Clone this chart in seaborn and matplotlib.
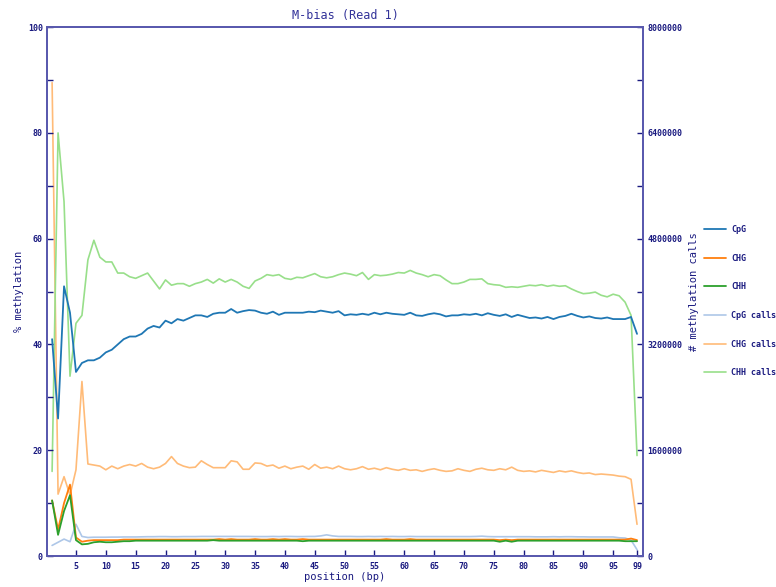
import numpy as np
import pandas as pd
import seaborn as sns
import matplotlib.pyplot as plt

# ---- data ----
position = list(range(1, 100))

# % methylation per position
cpg = [41, 26, 51, 46, 34.8, 36.5, 37, 37, 37.5, 38.5,
       39, 40, 41, 41.5, 41.5, 42, 43, 43.5, 43.2, 44.5,
       44, 44.8, 44.5, 45, 45.5, 45.5, 45.2, 45.8, 46, 46,
       46.7, 46, 46.3, 46.5, 46.4, 46, 45.8, 46.2, 45.6, 46,
       46, 46, 46, 46.2, 46.1, 46.4, 46.2, 46, 46.3, 45.5,
       45.7, 45.6, 45.8, 45.6, 46, 45.7, 46, 45.8, 45.7, 45.6,
       46, 45.5, 45.4, 45.7, 45.9, 45.7, 45.3, 45.5, 45.5, 45.7,
       45.6, 45.8, 45.5, 45.9, 45.6, 45.4, 45.7, 45.2, 45.6, 45.3,
       45, 45.1, 44.9, 45.2, 44.8, 45.2, 45.4, 45.8, 45.4, 45.1,
       45.3, 45, 44.9, 45.1, 44.8, 44.8, 44.8, 45.2, 42]
chg = [10.5, 5, 10, 13.5, 3.5, 2.7, 2.9, 3.0, 3.0, 3.0,
       3.0, 3.0, 3.1, 3.1, 3.1, 3.1, 3.1, 3.1, 3.1, 3.1,
       3.1, 3.1, 3.1, 3.1, 3.1, 3.1, 3.1, 3.1, 3.2, 3.1,
       3.2, 3.1, 3.1, 3.1, 3.2, 3.1, 3.1, 3.2, 3.1, 3.2,
       3.1, 3.1, 3.2, 3.1, 3.1, 3.1, 3.1, 3.1, 3.1, 3.1,
       3.1, 3.1, 3.1, 3.1, 3.1, 3.1, 3.2, 3.1, 3.1, 3.1,
       3.2, 3.1, 3.1, 3.1, 3.1, 3.1, 3.1, 3.1, 3.1, 3.1,
       3.1, 3.1, 3.1, 3.1, 3.1, 3.0, 3.1, 3.0, 3.1, 3.1,
       3.1, 3.1, 3.1, 3.1, 3.1, 3.1, 3.1, 3.1, 3.1, 3.1,
       3.1, 3.1, 3.1, 3.1, 3.1, 3.1, 3.1, 3.3, 3.0]
chh = [10.5, 4, 8.5, 11.5, 3.0, 2.2, 2.3, 2.6, 2.7, 2.6,
       2.6, 2.7, 2.8, 2.8, 2.9, 2.9, 2.9, 2.9, 2.9, 2.9,
       2.9, 2.9, 2.9, 2.9, 2.9, 2.9, 2.9, 3.0, 2.9, 2.9,
       2.9, 2.9, 2.9, 2.9, 2.9, 2.9, 2.9, 2.9, 2.9, 2.9,
       2.9, 2.9, 2.8, 2.9, 2.9, 2.9, 2.9, 2.9, 2.9, 2.9,
       2.9, 2.9, 2.9, 2.9, 2.9, 2.9, 2.9, 2.9, 2.9, 2.9,
       2.9, 2.9, 2.9, 2.9, 2.9, 2.9, 2.9, 2.9, 2.9, 2.9,
       2.9, 2.9, 2.9, 2.9, 2.9, 2.7, 2.9, 2.7, 2.9, 2.9,
       2.9, 2.9, 2.9, 2.9, 2.9, 2.9, 2.9, 2.9, 2.9, 2.9,
       2.9, 2.9, 2.9, 2.9, 2.9, 2.9, 2.8, 2.8, 2.8]

# methylation calls per position, in thousands
cpg_calls_k = [160, 208, 256, 216, 480, 296, 280, 284, 284, 284,
               286, 286, 288, 288, 288, 290, 292, 292, 294, 294,
               292, 292, 294, 294, 294, 296, 296, 296, 296, 296,
               296, 296, 296, 296, 294, 294, 294, 296, 294, 296,
               296, 294, 294, 296, 296, 304, 320, 304, 296, 296,
               296, 294, 294, 296, 294, 296, 294, 296, 294, 294,
               296, 294, 294, 294, 294, 294, 294, 294, 294, 294,
               294, 296, 300, 294, 292, 292, 292, 292, 292, 292,
               292, 290, 290, 290, 292, 290, 292, 292, 290, 290,
               288, 288, 288, 288, 288, 276, 272, 240, 96]
chg_calls_k = [7160, 936, 1200, 920, 1304, 2640, 1392, 1376, 1360, 1304,
               1360, 1320, 1360, 1384, 1360, 1400, 1344, 1320, 1344, 1400,
               1504, 1400, 1360, 1336, 1344, 1440, 1384, 1336, 1336, 1336,
               1440, 1424, 1312, 1312, 1408, 1400, 1360, 1376, 1328, 1360,
               1320, 1344, 1360, 1312, 1384, 1328, 1344, 1320, 1360, 1320,
               1304, 1320, 1352, 1312, 1328, 1304, 1336, 1312, 1296, 1320,
               1296, 1304, 1280, 1304, 1320, 1296, 1280, 1288, 1320, 1296,
               1280, 1312, 1328, 1304, 1296, 1320, 1304, 1344, 1296, 1280,
               1288, 1272, 1296, 1280, 1264, 1288, 1272, 1288, 1264, 1248,
               1256, 1232, 1240, 1232, 1224, 1208, 1200, 1160, 480]
chh_calls_k = [1280, 6400, 5360, 2720, 3520, 3640, 4480, 4776, 4520, 4448,
               4448, 4280, 4280, 4224, 4200, 4240, 4280, 4160, 4040, 4176,
               4096, 4120, 4120, 4080, 4120, 4144, 4184, 4128, 4192, 4144,
               4184, 4144, 4080, 4048, 4160, 4200, 4256, 4240, 4256, 4200,
               4184, 4216, 4208, 4240, 4272, 4224, 4208, 4224, 4256, 4280,
               4264, 4240, 4288, 4184, 4256, 4240, 4248, 4264, 4288, 4280,
               4320, 4280, 4256, 4224, 4256, 4240, 4176, 4120, 4120, 4144,
               4184, 4184, 4192, 4120, 4104, 4096, 4064, 4072, 4064, 4080,
               4096, 4088, 4104, 4080, 4096, 4080, 4088, 4040, 4000, 3968,
               3976, 3992, 3944, 3920, 3960, 3936, 3840, 3640, 1520]

x_ticks = [5, 10, 15, 20, 25, 30, 35, 40, 45, 50, 55, 60, 65, 70, 75, 80, 85, 90, 95, 99]
left_ticks = [0, 10, 20, 30, 40, 50, 60, 70, 80, 90, 100]
left_labels = ["0", "", "20", "", "40", "", "60", "", "80", "", "100"]
right_ticks = [0, 800000, 1600000, 2400000, 3200000, 4000000,
               4800000, 5600000, 6400000, 7200000, 8000000]
right_labels = ["0", "", "1600000", "", "3200000", "", "4800000", "", "6400000", "", "8000000"]

pct = pd.DataFrame({"position": position, "CpG": cpg, "CHG": chg, "CHH": chh})
calls = pd.DataFrame({"position": position,
                      "CpG calls": np.array(cpg_calls_k) * 1000,
                      "CHG calls": np.array(chg_calls_k) * 1000,
                      "CHH calls": np.array(chh_calls_k) * 1000})

# ---- style ----
sns.set_theme(style="white")
navy = "#1a1a80"
spine_col = "#5a5aae"
plt.rcParams["font.family"] = ["DejaVu Sans Mono"]
pal = sns.color_palette("tab20")

fig = plt.figure(figsize=(7.76, 5.87), dpi=100)
ax = fig.add_axes([0.0606, 0.0528, 0.768, 0.901])
ax2 = ax.twinx()

# light "calls" lines on the right axis, drawn behind
for i, col in enumerate(["CpG calls", "CHG calls", "CHH calls"]):
    sns.lineplot(data=calls, x="position", y=col, ax=ax2, color=pal[2 * i + 1],
                 linewidth=1.2, label=col, legend=False)
for i, col in enumerate(["CpG", "CHG", "CHH"]):
    sns.lineplot(data=pct, x="position", y=col, ax=ax, color=pal[2 * i],
                 linewidth=1.3, label=col, legend=False)

# put the % axis on top of the calls axis
ax.set_zorder(ax2.get_zorder() + 1)
ax.patch.set_visible(False)

ax.set_xlim(0.15, 100)
ax.set_ylim(0, 100)
ax.set_xticks(x_ticks)
ax.set_yticks(left_ticks)
ax.set_yticklabels(left_labels)
ax2.set_yticks(right_ticks)
ax2.set_yticklabels(right_labels)
ax2.set_ylim(0, 8000000)
ax.minorticks_off()
ax2.minorticks_off()

for a in (ax, ax2):
    a.tick_params(which="major", direction="in", length=4, width=1,
                  color=navy, labelcolor=navy, labelsize=6, pad=3)
    for lab in a.get_xticklabels() + a.get_yticklabels():
        lab.set_fontweight("bold")
    for s in a.spines.values():
        s.set_color(spine_col)
        s.set_linewidth(1.4)
ax.tick_params(left=True, right=False, top=False, bottom=True)
ax2.tick_params(left=False, right=True, top=False, bottom=False)
ax.tick_params(axis="x", pad=4)

ax.set_xlabel("position (bp)", fontsize=7.5, color=navy, labelpad=1)
ax.set_ylabel("% methylation", fontsize=7.5, color=navy, labelpad=3)
ax2.set_ylabel("# methylation calls", fontsize=7.5, color=navy, labelpad=5)
ax.set_title("M-bias (Read 1)", fontsize=8.5, color="#333399", pad=6)

h1, l1 = ax.get_legend_handles_labels()
h2, l2 = ax2.get_legend_handles_labels()
leg = fig.legend(h1 + h2, l1 + l2, loc="center left", bbox_to_anchor=(0.898, 0.487),
                 frameon=False, handlelength=2.6, labelspacing=2.35, handletextpad=0.6,
                 prop={"family": "DejaVu Sans Mono", "size": 6, "weight": "bold"})
for t in leg.get_texts():
    t.set_color(navy)

fig.savefig("out.png", dpi=100)
